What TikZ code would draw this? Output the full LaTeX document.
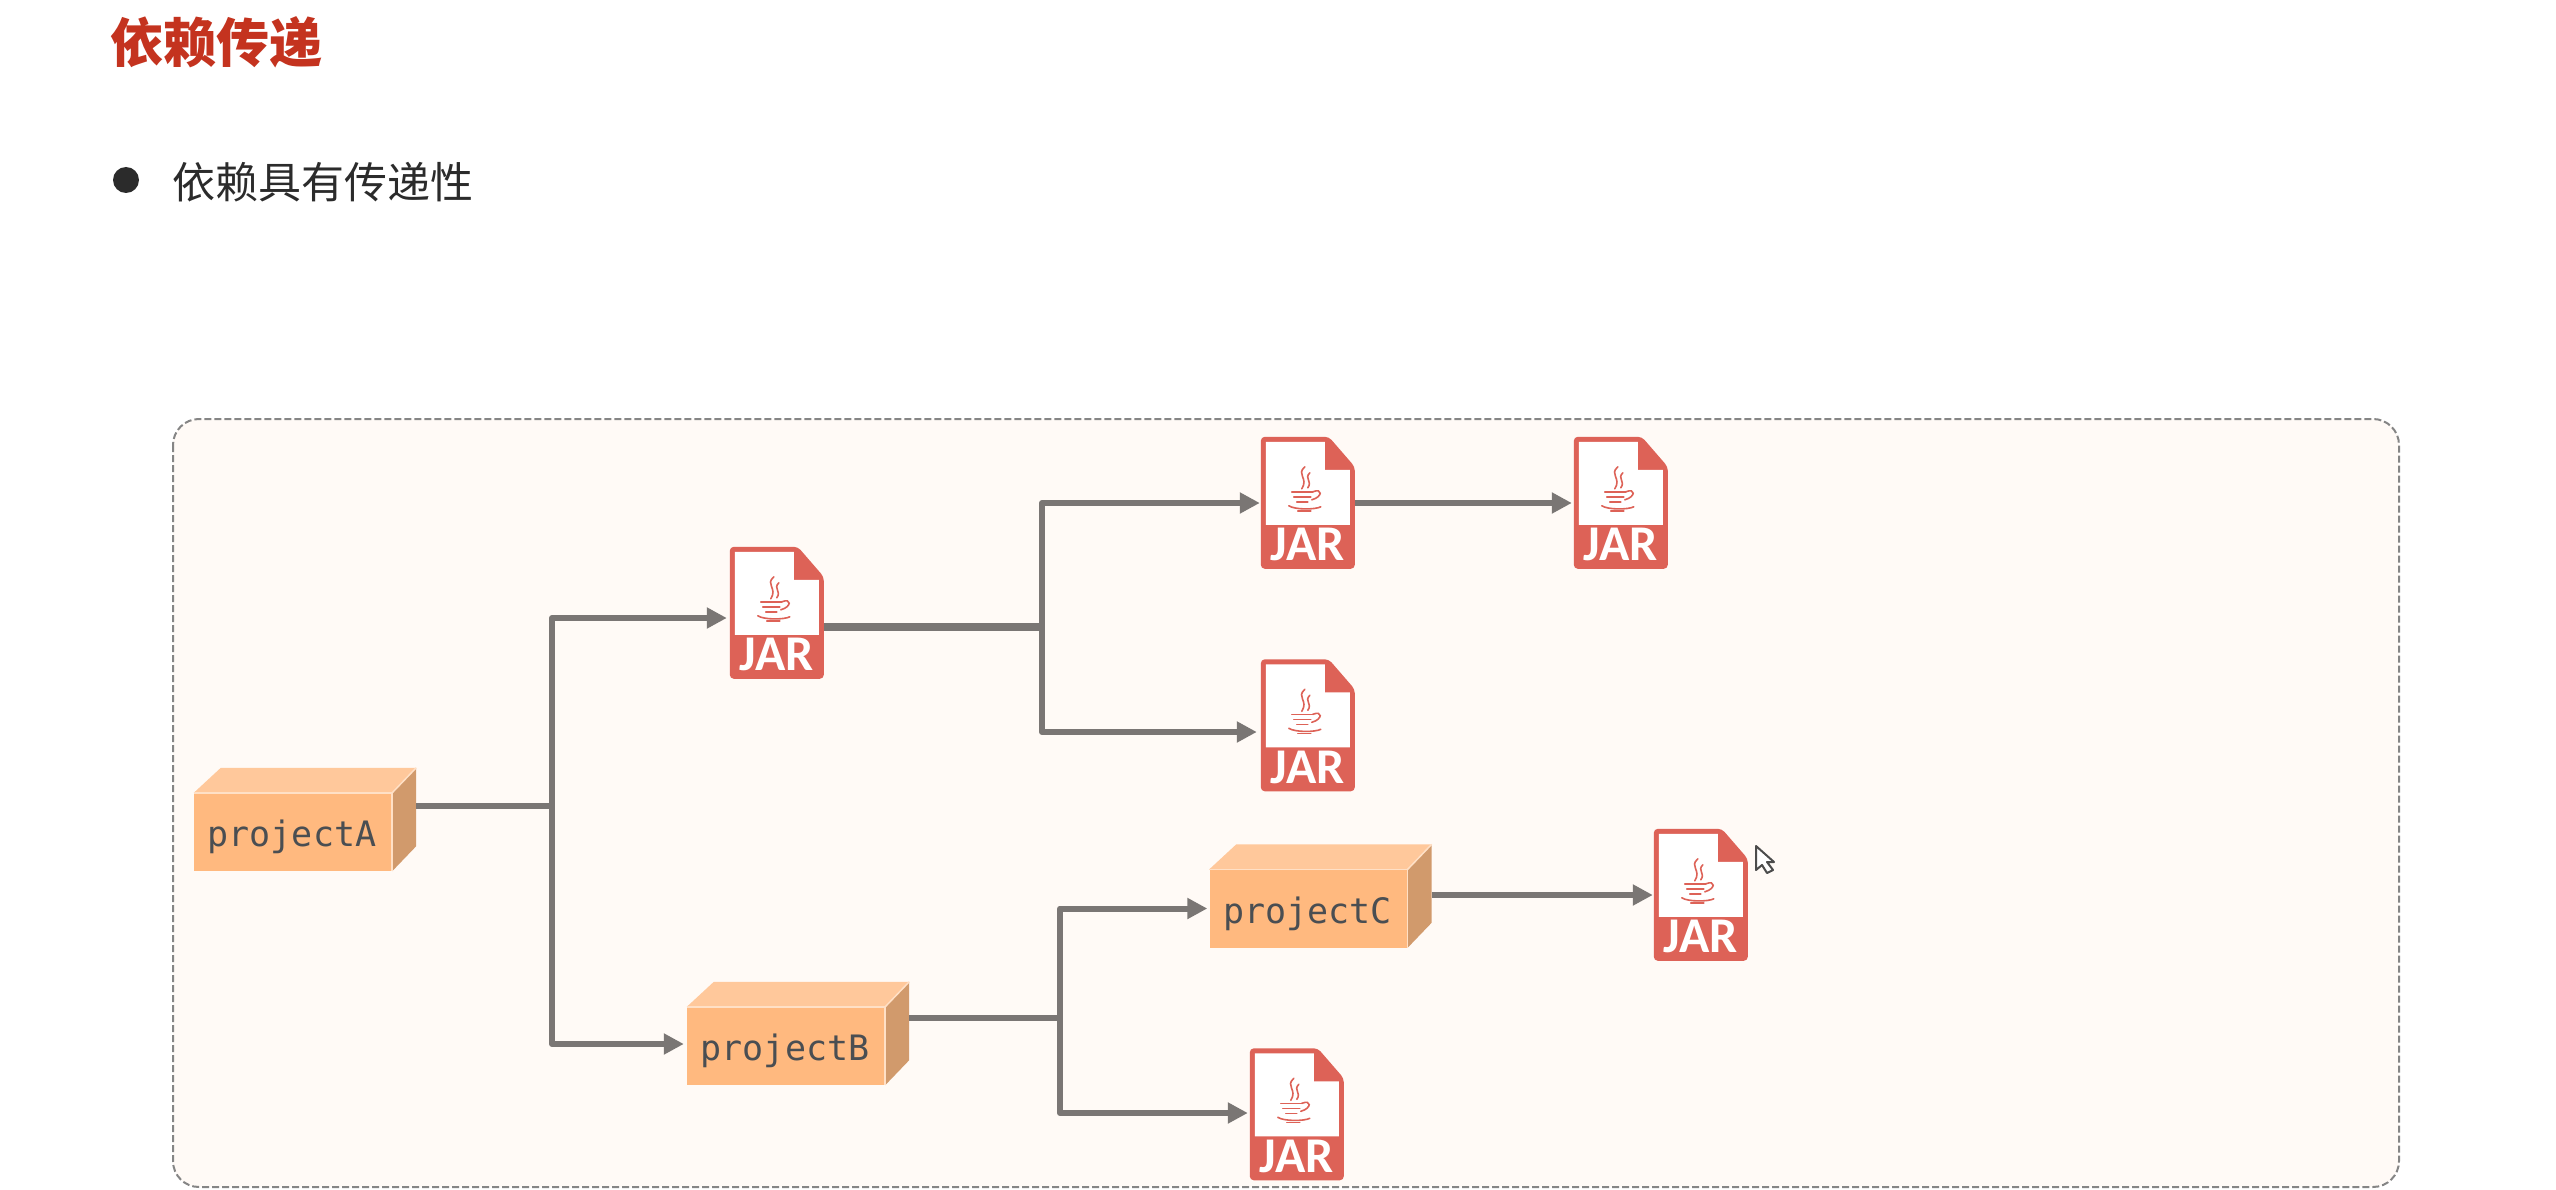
\documentclass[tikz,border=0pt]{standalone}
\usepackage{fontspec}
\newfontfamily\cjk{Noto Sans CJK SC}
\newfontfamily\jarfont{Carlito}
\newfontfamily\projectfont{DejaVu Sans Mono}
\usetikzlibrary{arrows.meta}
\usetikzlibrary{calc}
\definecolor{TitleRed}{HTML}{C4331F}
\definecolor{BodyText}{HTML}{2B2B2B}
\definecolor{PanelFill}{HTML}{FFFAF6}
\definecolor{PanelEdge}{HTML}{858585}
\definecolor{FlowGray}{HTML}{7A7674}
\definecolor{JarRed}{HTML}{DD6257}
\definecolor{BoxFront}{HTML}{FFB97F}
\definecolor{BoxTop}{HTML}{FFC89B}
\definecolor{BoxSide}{HTML}{D19A6C}
\definecolor{BoxEdge}{HTML}{FFE0C6}
\definecolor{ProjectText}{HTML}{4A4E52}
\tikzset{
    flow/.style={draw=FlowGray, line width=6pt, line join=round,
        -{Triangle[length=20pt, width=20pt]}},
    flowStub/.style={draw=FlowGray, line width=6pt},
    projectBox/.style={fill=BoxFront, inner sep=0pt, minimum width=198pt, minimum height=78pt},
    projectLabel/.style={text=ProjectText, font=\projectfont\fontsize{35}{35}\selectfont},
    jarBox/.style={inner sep=0pt, minimum width=94pt, minimum height=132pt},
    jarLabel/.style={text=white, inner sep=0pt, anchor=base, font=\jarfont\bfseries\fontsize{50}{50}\selectfont},
    jarSteam/.style={draw=JarRed, line width=1.6pt, line cap=round},
}

% Caja de un proyecto: nombre, centro, texto
\newcommand{\projectbox}[3]{
    \node[projectBox] (#1) at (#2) {};
    \fill[BoxTop] (#1.north west) -- ++(27,-25) -- ($(#1.north east)+(24,-25)$) -- (#1.north east) -- cycle;
    \fill[BoxSide] (#1.north east) -- ++(24,-25) -- ($(#1.south east)+(24,-25)$) -- (#1.south east) -- cycle;
    \draw[BoxEdge, line width=1.5pt] (#1.north west) -- (#1.north east) -- (#1.south east);
    \draw[BoxEdge, line width=1.5pt] (#1.north east) -- ++(24,-25);
    \node[projectLabel] (#1Label) at ($(#1.center)+(-1,5)$) {#3};
}

% Icono de un JAR: nombre, centro
\newcommand{\jarfile}[2]{
    \node[jarBox] (#1) at (#2) {};
    \begin{scope}[shift={(#1.north west)}]
        \fill[JarRed, rounded corners=4pt] (0,0) -- (68,0) -- (94,30) -- (94,132) -- (0,132) -- cycle;
        \fill[white] (5,5) -- (64,5) -- (64,33) -- (89,33) -- (89,88) -- (5,88) -- cycle;
        \draw[jarSteam] (44,30) .. controls (35,38) and (48,41) .. (41,52);
        \draw[jarSteam] (49,36) .. controls (43,42) and (52,44) .. (47,51);
        \draw[jarSteam] (31,55) -- (52,55);
        \draw[jarSteam] (33,60) -- (50,60);
        \draw[jarSteam] (36,65) -- (47,65);
        \draw[jarSteam] (52,55) .. controls (62,51) and (62,60) .. (51,63);
        \draw[jarSteam] (28,69) .. controls (34,73) and (54,73) .. (60,70);
        \draw[jarSteam] (37,74) -- (50,74);
        \node[jarLabel] (#1Label) at (47,124) {JAR};
    \end{scope}
}

\begin{document}
\begin{tikzpicture}[x=1pt, y=-1pt]

    \useasboundingbox (0,0) rectangle (2556,1190);
    \fill[white] (0,0) rectangle (2556,1190);

    % Encabezado

    \node[anchor=west, inner sep=0pt, text=TitleRed, font=\cjk\bfseries\fontsize{53}{53}\selectfont] (titleText) at (110,42) {依赖传递};
    \node[circle, fill=BodyText, inner sep=0pt, minimum size=26pt] (bulletDot) at (126,180) {};
    \node[anchor=west, inner sep=0pt, text=BodyText, font=\cjk\fontsize{43}{43}\selectfont] (bulletText) at (172,182) {依赖具有传递性};

    % Panel

    \draw[fill=PanelFill, draw=PanelEdge, line width=2pt, dash pattern=on 7pt off 3pt, rounded corners=26pt]
    (173,419) rectangle (2399,1187);

    % Proyectos

    \projectbox{projectA}{293,832}{projectA}
    \projectbox{projectB}{786,1046}{projectB}
    \projectbox{projectC}{1308.5,908.5}{projectC}

    % JAR

    \jarfile{jarOne}{777,613}
    \jarfile{jarTwo}{1308,503}
    \jarfile{jarThree}{1621,503}
    \jarfile{jarFour}{1308,725.5}
    \jarfile{jarFive}{1701,895}
    \jarfile{jarSix}{1297,1114.5}

    % Bifurcaciones

    \coordinate (forkA) at (552,806);
    \coordinate (forkJar) at (1042,627);
    \coordinate (forkB) at (1060,1018);

    \draw[flowStub] ($(projectA.east)+(24,-26)$) -- (forkA);
    \draw[flow] (forkA) |- ($(jarOne.west)+(-3,5)$);
    \draw[flow] (forkA) |- ($(projectB.west)+(-3,-2)$);

    \draw[flowStub, line width=7.5pt] ($(jarOne.east)+(0,14)$) -- (forkJar);
    \draw[flow] (forkJar) |- ($(jarTwo.west)+(-1,0)$);
    \draw[flow] (forkJar) |- ($(jarFour.west)+(-4,6.5)$);
    \draw[flow] (jarTwo.east) -- ($(jarThree.west)+(-2,0)$);

    \draw[flowStub] ($(projectB.east)+(24,-28)$) -- (forkB);
    \draw[flow] (forkB) |- ($(projectC.west)+(-2,0)$);
    \draw[flow] (forkB) |- ($(jarSix.west)+(-2,-1.5)$);
    \draw[flow] ($(projectC.east)+(24,-13.5)$) -- ($(jarFive.west)+(-1,0)$);

    % Cursor

    \draw[fill=white, draw=black!70, line width=2pt, line join=round]
    (1756,846) -- (1756,870) -- (1762,865) -- (1767,873) -- (1773,870) -- (1767,862) -- (1774,862) -- cycle;

\end{tikzpicture}
\end{document}
